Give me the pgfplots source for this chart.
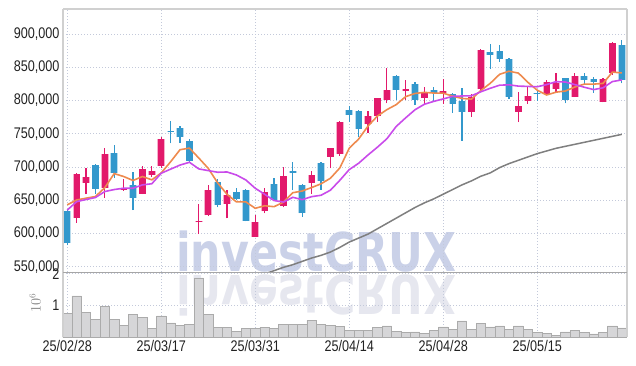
\documentclass[border=0pt]{standalone}
\usepackage{fontspec}
\setmainfont{Liberation Sans}[FakeStretch=0.82]
\newfontfamily\wmfont{DejaVu Sans}
\usepackage{graphicx}
\usepackage{pgfplots}
\usepackage{pgfplotstable}
\pgfplotsset{compat=1.18}
\definecolor{candR}{HTML}{E2196B}
\definecolor{candB}{HTML}{3398CC}
\definecolor{maO}{HTML}{EE8A4E}
\definecolor{maP}{HTML}{C94BEA}
\definecolor{maG}{HTML}{7F7F7F}
\definecolor{gridc}{HTML}{C3C9DA}
\definecolor{wm}{HTML}{CAD1E8}
\definecolor{wmr}{HTML}{E6E7EF}
\definecolor{volf}{HTML}{D6D6D8}
\definecolor{vold}{HTML}{ABABAB}
\definecolor{txt}{HTML}{222222}
\definecolor{border}{HTML}{D0D0D0}

% values in thousands
\pgfplotstableread{
i o h l c
1 623 691 616 690
2 676 698 659 684.5
4 668 728 654 719.5
6 665 681.5 664 668
8 660 702 659 697
9 688.5 701.5 684.5 694
10 702 744.6 699 742
14 616.5 645 599 619
15 627 673 626 665
17 645 665.5 622.8 658
20 595 628 594 617
21 633 669 630 662
23 641 699.5 639 686.4
26 675.5 694 659.4 688
28 715.5 728.5 698 728
29 719 769 717 767.6
32 764 784.7 751.6 776.7
33 776.7 804 768 803.3
34 800.7 848.4 795.7 815.8
36 814 830.8 800.7 817
38 804.2 819.8 793 810.8
40 810.8 832 794.7 814.8
43 783 809.8 775.7 805.7
44 816.8 877 815 876
48 783 812.3 767.2 791.7
49 799.2 820.7 794.7 806.8
51 809.3 830.8 808 827.4
52 817.3 841 813.2 826.8
54 805.7 841 805 836.8
57 797.7 833 797 832.3
58 841 888.4 838.3 886
}\up
\pgfplotstableread{
i o h l c
0 634 636 582 585
3 703 704 660 667
5 721.5 733 683 690.5
7 673 693 635 654
11 753.5 769 735.6 752
12 758.6 761.6 736.5 744.6
13 739 742 708 709
16 678 682 639 643
18 662 668 650 652
19 666 667 618 619
22 674.4 683 650 651
24 694 708 665.5 690.5
25 673 674 625 630
27 706.5 707 665.5 679
30 785.7 791.7 768 778
31 784 785 745.5 757
35 836.8 837.5 800.7 815.8
37 824.8 828.3 793 800.7
39 815.8 819.8 798 810.8
41 809.8 810.5 781.6 794.7
42 799.7 818 739 783
45 873 885 847 869
46 874.4 883.5 858.3 862.9
47 862.4 863.5 801.8 805.7
50 811.8 815.8 799.2 809.3
53 833.3 834 795.7 800.7
55 836.8 841.8 824.8 830.8
56 832.3 834.8 811.8 827.4
59 883.5 891 825.8 830.8
}\down
\pgfplotstableread{
i v
0 643
1 650.3
2 653
3 655.5
4 668.8
5 690.0
6 685.6
7 679.6
8 685.6
9 680.6
10 691.0
11 707.8
12 725.9
13 728.3
14 713.3
15 697.9
16 676.1
17 658.8
18 647.4
19 647.4
20 637.8
21 641.6
22 640.2
23 647.0
24 661.2
25 663.8
26 669.0
27 674.6
28 683.0
29 698.5
30 728.1
31 741.9
32 761.5
33 776.5
34 786.1
35 793.7
36 805.7
37 810.5
38 812.1
39 811.1
40 810.9
41 806.5
42 803.0
43 801.9
44 814.9
45 825.7
46 839.3
47 843.9
48 841.1
49 827.3
50 815.4
51 808.2
52 812.4
53 814.2
54 820.2
55 824.5
56 824.5
57 825.6
58 842.6
59 841.4
}\maFive
\pgfplotstableread{
i v
0 635
1 647.8
2 651
3 654
4 663
5 666
6 668
7 668
8 673
9 674.7
10 690.5
11 696.7
12 702.8
13 707.0
14 697.0
15 694.5
16 692.0
17 692.4
18 687.9
19 680.4
20 667.9
21 658.9
22 649.5
23 647.2
24 654.3
25 650.8
26 655.3
27 657.4
28 665.0
29 679.9
30 696.0
31 705.5
32 718.0
33 729.7
34 742.3
35 760.9
36 773.8
37 786.0
38 794.3
39 798.6
40 802.3
41 806.1
42 806.7
43 807.0
44 813.0
45 818.3
46 822.9
47 823.5
48 821.5
49 821.1
50 820.6
51 823.8
52 828.2
53 827.7
54 823.8
55 819.9
56 816.3
57 819.0
58 828.4
59 830.8
}\maTen
\pgfplotstableread{
i v
21 539
22 544
23 549
24 553
25 558
26 563
27 567
28 572
29 579
30 587
31 593
32 599
33 607
34 615
35 623
36 631
37 639
38 646
39 652
40 659
41 666
42 673
43 679
44 686
45 691
46 699
47 705
48 710
49 715
50 720
51 724
52 728
53 731
54 734
55 737
56 740
57 743
58 746
59 749
}\maLong
% volume in millions
\pgfplotstableread{
i v
0 0.75
1 1.30
2 0.78
3 0.56
4 0.98
5 0.56
6 0.38
7 0.72
8 0.63
9 0.28
10 0.67
11 0.45
12 0.38
13 0.41
14 1.87
15 0.72
16 0.31
17 0.31
18 0.18
19 0.28
20 0.28
21 0.31
22 0.28
23 0.41
24 0.41
25 0.41
26 0.53
27 0.41
28 0.38
29 0.34
30 0.22
31 0.21
32 0.21
33 0.31
34 0.35
35 0.17
36 0.14
37 0.16
38 0.12
39 0.21
40 0.32
41 0.25
42 0.51
43 0.25
44 0.44
45 0.32
46 0.35
47 0.25
48 0.35
49 0.25
50 0.14
51 0.12
52 0.05
53 0.16
54 0.22
55 0.14
56 0.10
57 0.14
58 0.35
59 0.29
}\vol

\pgfplotsset{
  base/.style={
    scale only axis, width=564pt,
    xmin=-0.45, xmax=59.55,
    xtick={0,10,20,30,40,50},
    grid=major,
    major grid style={color=gridc, line width=0.8pt, dash pattern=on 0.8pt off 2.2pt},
    major tick length=0pt,
    axis line style={draw=none},
    tick label style={text=txt, font=\fontsize{15.4pt}{16pt}\selectfont},
  },
  wick/.style={draw=none, mark=none, forget plot,
    error bars/.cd, y dir=plus, y explicit, error mark=none,
    error bar style={line width=1.3pt, draw=#1, solid}},
  body/.style={draw=none, mark=none, forget plot,
    error bars/.cd, y dir=plus, y explicit, error mark=none,
    error bar style={line width=6.2pt, draw=#1, solid}},
  halo/.style={draw=none, mark=none, forget plot,
    error bars/.cd, y dir=plus, y explicit, error mark=none,
    error bar style={line width=7.6pt, draw=#1, solid}},
}

\begin{document}
\begin{tikzpicture}
\useasboundingbox (-63pt,-94pt) rectangle (573pt,272pt);
% watermark
\node[anchor=base west, inner sep=0pt, text=wm, font={\wmfont\bfseries\fontsize{53.5pt}{54pt}\selectfont}] at (113pt,0pt) {\scalebox{0.8}[1]{investCRUX}};
\node[anchor=north west, inner sep=0pt, text=wmr, font={\wmfont\bfseries\fontsize{53.5pt}{54pt}\selectfont}] at (113pt,-3pt) {\scalebox{0.8}[-1]{investCRUX}};

\begin{axis}[base, name=price, at={(0pt,0pt)}, anchor=south west,
  height=263pt, ymin=542, ymax=937.5,
  ytick={550,600,650,700,750,800,850,900},
  yticklabels={{550,000},{600,000},{650,000},{700,000},{750,000},{800,000},{850,000},{900,000}},
  xticklabels={},
]
\addplot[wick=candR] table[x=i, y=l, y error expr=\thisrow{h}-\thisrow{l}] {\up};
\addplot[wick=candB] table[x=i, y=l, y error expr=\thisrow{h}-\thisrow{l}] {\down};
\addplot[halo=candR!35] table[x=i, y=o, y error expr=\thisrow{c}-\thisrow{o}] {\up};
\addplot[halo=candB!35] table[x=i, y=c, y error expr=\thisrow{o}-\thisrow{c}] {\down};
\addplot[body=candR] table[x=i, y=o, y error expr=\thisrow{c}-\thisrow{o}] {\up};
\addplot[body=candB] table[x=i, y=c, y error expr=\thisrow{o}-\thisrow{c}] {\down};
\addplot[maG, line width=1.5pt, mark=none] table[x=i, y=v] {\maLong};
\addplot[maO, line width=1.6pt, mark=none] table[x=i, y=v] {\maFive};
\addplot[maP, line width=1.6pt, mark=none] table[x=i, y=v] {\maTen};
\end{axis}

\begin{axis}[base, name=vol, at={(price.south west)}, anchor=north west,
  height=65pt, ymin=0, ymax=2.06,
  ytick={1,2}, yticklabels={1,2},
  xticklabels={25/02/28,25/03/17,25/03/31,25/04/14,25/04/28,25/05/15},
]
\addplot[ybar, bar width=1, fill=volf, draw=vold, line width=0.5pt] table[x=i, y=v] {\vol};
\end{axis}

\node[rotate=90, text=gray, font=\fontsize{13.5pt}{14pt}\selectfont] at (-28pt,-31pt) {$10^{6}$};
\draw[border, line width=1.3pt] (price.north west) -- (price.north east);
\draw[border, line width=1.3pt] (price.north west) -- (vol.south west);
\draw[border, line width=1.3pt] (price.north east) -- (vol.south east);
\draw[color=black!35, line width=0.8pt] (price.south west) -- (price.south east);
\end{tikzpicture}
\end{document}
